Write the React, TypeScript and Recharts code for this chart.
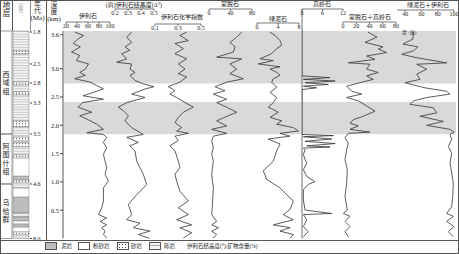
import React from "react";
import {
  LineChart,
  Line,
  XAxis,
  YAxis,
  ReferenceArea,
  ReferenceLine,
} from "recharts";

// depth (km) / value pairs, from the top down
const illite: [number, number][] = [
  [3.63, 36], [3.57, 52], [3.51, 42], [3.43, 33], [3.37, 46], [3.28, 30], [3.22, 45],
  [3.13, 39], [3.07, 61], [2.98, 55], [2.92, 45], [2.87, 55], [2.81, 36], [2.75, 64],
  [2.69, 76], [2.63, 88], [2.57, 70], [2.51, 51], [2.45, 88], [2.39, 50], [2.31, 42],
  [2.22, 67], [2.16, 45], [2.1, 58], [2.01, 76], [1.92, 88], [1.86, 58], [1.83, 88],
  [1.78, 94], [1.69, 88], [1.6, 94], [1.48, 88], [1.36, 91], [1.25, 94], [1.13, 91],
  [1.01, 97], [0.89, 88], [0.77, 88], [0.66, 88], [0.54, 85], [0.42, 79], [0.36, 94],
  [0.3, 82], [0.24, 94], [0.19, 85], [0.13, 91], [0.07, 88], [0.01, 94],
];

const crystallinity: [number, number][] = [
  [3.63, 0.328], [3.54, 0.29], [3.45, 0.328], [3.37, 0.277], [3.31, 0.315], [3.25, 0.251],
  [3.16, 0.29], [3.1, 0.213], [3.07, 0.328], [2.98, 0.315], [2.92, 0.354], [2.87, 0.315],
  [2.78, 0.354], [2.72, 0.418], [2.67, 0.5], [2.63, 0.431], [2.54, 0.328], [2.48, 0.431],
  [2.39, 0.29], [2.31, 0.226], [2.25, 0.264], [2.16, 0.303], [2.07, 0.277], [1.95, 0.328],
  [1.83, 0.418], [1.78, 0.29], [1.69, 0.379], [1.63, 0.315], [1.54, 0.354], [1.36, 0.367],
  [1.13, 0.418], [0.95, 0.444], [0.77, 0.367], [0.6, 0.303], [0.42, 0.328], [0.33, 0.29],
  [0.27, 0.392], [0.19, 0.341], [0.13, 0.469], [0.07, 0.379], [0.0, 0.469],
];

const chemIndex: [number, number][] = [
  [3.63, 0.375], [3.57, 0.317], [3.48, 0.39], [3.43, 0.274], [3.34, 0.346], [3.25, 0.274],
  [3.16, 0.375], [3.07, 0.303], [2.98, 0.361], [2.9, 0.303], [2.84, 0.375], [2.75, 0.317],
  [2.67, 0.216], [2.6, 0.274], [2.54, 0.23], [2.48, 0.288], [2.39, 0.361], [2.31, 0.433],
  [2.22, 0.346], [2.13, 0.303], [2.04, 0.274], [1.95, 0.332], [1.89, 0.288], [1.85, 0.39],
  [1.8, 0.274], [1.72, 0.303], [1.63, 0.23], [1.54, 0.274], [1.36, 0.303], [1.25, 0.317],
  [1.13, 0.274], [1.01, 0.288], [0.83, 0.317], [0.66, 0.39], [0.54, 0.303], [0.42, 0.39],
  [0.33, 0.288], [0.24, 0.419], [0.19, 0.317], [0.1, 0.419], [0.01, 0.346],
];

const smectite: [number, number][] = [
  [3.63, 60.8], [3.54, 51.5], [3.45, 39], [3.37, 48.4], [3.28, 45.3], [3.19, 14.3],
  [3.16, 60.8], [3.07, 39], [2.98, 51.5], [2.9, 39], [2.81, 63.9], [2.75, 32.9],
  [2.67, 11.2], [2.6, 29.8], [2.54, 8.1], [2.45, 32.9], [2.39, 14.3], [2.31, 32.9],
  [2.22, 51.5], [2.16, 36], [2.07, 14.3], [1.98, 32.9], [1.92, 5], [1.85, 32.9],
  [1.8, 8.1], [1.72, 5], [1.6, 8.1], [1.48, 5], [1.36, 8.1], [1.13, 5], [0.89, 8.1],
  [0.66, 6.8], [0.42, 5], [0.3, 14.3], [0.24, 5], [0.19, 17.4], [0.13, 5], [0.07, 14.3],
  [0.0, 6.8],
];

const chlorite: [number, number][] = [
  [3.63, 2.48], [3.57, 3.43], [3.48, 4.38], [3.4, 4.7], [3.34, 3.75], [3.25, 2.79],
  [3.16, 0.57], [3.13, 3.11], [3.07, 0.25], [3.02, 4.38], [2.98, 2.48], [2.92, 3.75],
  [2.87, 4.38], [2.81, 3.11], [2.75, 2.79], [2.66, 3.75], [2.57, 2.48], [2.48, 3.75],
  [2.39, 3.11], [2.31, 2.16], [2.22, 4.06], [2.13, 2.48], [2.07, 4.7], [2.01, 3.75],
  [1.95, 6.92], [1.89, 7.9], [1.85, 4.38], [1.8, 6.29], [1.75, 2.16], [1.66, 4.38],
  [1.54, 3.75], [1.36, 3.11], [1.19, 1.2], [1.04, 1.84], [0.89, 4.38], [0.77, 5.65],
  [0.66, 6.92], [0.51, 6.29], [0.42, 5.0], [0.33, 6.92], [0.24, 3.11], [0.19, 6.29],
  [0.13, 4.38], [0.07, 6.92], [0.0, 6.29],
];

const kaolinite: [number, number][] = [
  [3.666, 0], [2.86, 0], [2.83, 8.2], [2.8, 0.4], [2.77, 9.7], [2.74, 0.9], [2.71, 7.7],
  [2.68, 0.4], [2.65, 4.3], [2.62, 0], [1.83, 0], [1.81, 9.2], [1.79, 0.4], [1.75, 8.7],
  [1.71, 0.9], [1.67, 9.7], [1.63, 1.4], [1.61, 8.2], [1.59, 0.4], [1.56, 0.9], [1.48, 0.4],
  [1.39, 0.9], [1.33, 1.4], [1.21, 0.4], [1.09, 1.4], [1.0, 3.8], [0.95, 1.8], [0.86, 0.4],
  [0.68, 0.4], [0.5, 0.9], [0.44, 8.7], [0.42, 0.4], [0.33, 1.4], [0.21, 0.4], [0.12, 1.8],
  [0.03, 0.4],
];

const smectKaol: [number, number][] = [
  [3.63, 37.7], [3.54, 51.3], [3.45, 33.2], [3.37, 60.4], [3.33, 53.3], [3.27, 65.9],
  [3.21, 35.7], [3.15, 48.3], [3.09, 8], [3.065, 40.7], [2.98, 35.7], [2.92, 53.3],
  [2.86, 35.7], [2.8, 45.7], [2.74, 25.7], [2.68, 5.5], [2.59, 13.1], [2.54, 28.2],
  [2.48, 5.5], [2.42, 23.1], [2.33, 35.7], [2.24, 48.3], [2.15, 30.6], [2.09, 15.6],
  [2.03, 10.6], [1.98, 23.1], [1.92, 10.6], [1.87, 40.7], [1.85, 8], [1.77, 3], [1.68, 8],
  [1.56, 5.5], [1.39, 3], [1.21, 6.5], [0.97, 5.5], [0.74, 3], [0.5, 6.5], [0.44, 0.5],
  [0.39, 10.6], [0.3, 3], [0.21, 10.6], [0.12, 3], [0.03, 8],
];

const chlIll: [number, number][] = [
  [3.63, 50], [3.51, 49.7], [3.42, 37.4], [3.37, 55.8], [3.3, 50], [3.24, 35.8],
  [3.18, 54.2], [3.09, 91], [3.065, 54.2], [2.98, 66.5], [2.89, 54.2], [2.8, 58.3],
  [2.74, 39.8], [2.65, 64.4], [2.59, 91], [2.54, 95.1], [2.48, 66.5], [2.42, 50],
  [2.36, 46], [2.3, 74.6], [2.21, 78.8], [2.15, 58.3], [2.06, 86.9], [1.99, 66.5],
  [1.92, 95.1], [1.87, 100], [1.83, 95.1], [1.74, 97.2], [1.62, 93], [1.5, 97.2],
  [1.33, 95.1], [1.15, 97.2], [0.97, 99.2], [0.74, 98.4], [0.56, 97.2], [0.44, 91],
  [0.39, 99.2], [0.3, 91], [0.21, 100], [0.12, 93], [0.03, 99.2],
];

const depthTicks = [3.6, 3.0, 2.5, 2.0, 1.5, 1.0, 0.5];
const ageLabels = ["1.8", "2.5", "2.8", "3.3", "3.5", "4.6", "8.0"];
const ageDepths = [3.648, 3.083, 2.747, 2.394, 1.846, 0.963, 0];
const clayBands: [number, number][] = [
  [3.666, 2.74],
  [2.41, 1.84],
];

// lithology column: top depth, bottom depth, rock type
const lithoLayers: [number, number, string][] = [
  [3.666, 3.31, "cong"], [3.31, 3.26, "sand"], [3.26, 2.765, "cong"], [2.765, 2.71, "sand"],
  [2.71, 2.59, "cong"], [2.59, 2.535, "sand"], [2.535, 2.075, "cong"], [2.075, 1.97, "sand"],
  [1.97, 1.79, "cong"], [1.79, 1.72, "sand"], [1.72, 1.69, "cong"], [1.69, 1.62, "sand"],
  [1.62, 1.475, "cong"], [1.475, 1.42, "sand"], [1.42, 1.1, "silt"], [1.1, 1.03, "mud"],
  [1.03, 0.98, "sand"], [0.98, 0.89, "cong"], [0.89, 0.73, "silt"], [0.73, 0.45, "mud"],
  [0.45, 0.38, "cong"], [0.38, 0.31, "mud"], [0.31, 0.255, "silt"], [0.255, 0.2, "mud"],
  [0.2, 0.115, "silt"], [0.115, 0.06, "sand"], [0.06, 0, "cong"],
];

const strataNames = ["西域组", "阿图什组", "乌恰群"];
const strataTops = [3.666, 1.846, 0.963];
const strataBottoms = [1.846, 0.963, 0];

const FONT = '"Liberation Serif", "Noto Sans CJK SC", serif';
const TOP_DEPTH = 3.666;
const BASE_Y = 238.5;
const PX_KM = 56.6;
const INK = "#333";

const lithoFill: Record<string, string> = {
  cong: "url(#pCong)",
  sand: "url(#pSand)",
  silt: "#ffffff",
  mud: "#bdbdbd",
};

type Pt = [number, number];

function Txt({ x, y, size = 6, children, anchor = "middle", color = "#222" }: any) {
  const tx =
    anchor === "middle" ? "translateX(-50%)" : anchor === "end" ? "translateX(-100%)" : "none";
  return (
    <div
      style={{
        position: "absolute",
        left: x,
        top: y,
        fontSize: size,
        lineHeight: 1,
        whiteSpace: "nowrap",
        transform: tx,
        color,
        fontFamily: FONT,
      }}
    >
      {children}
    </div>
  );
}

const StackedLabel = (props: any) => {
  const { viewBox, value } = props;
  if (!viewBox) return null;
  const { x, y, width, height } = viewBox;
  const chars = String(value).split("");
  const lh = 8.5;
  const cx = x + width / 2;
  const start = y + height / 2 - ((chars.length - 1) * lh) / 2 + 2.5;
  return (
    <text fontSize={7} fill="#222" textAnchor="middle" fontFamily={FONT}>
      {chars.map((c, i) => (
        <tspan key={i} x={cx} y={start + i * lh}>
          {c}
        </tspan>
      ))}
    </text>
  );
};

interface TrackProps {
  data: Pt[];
  domain: [number, number];
  ticks: number[];
  x0: number;
  x1: number;
  axisY: number;
  zero?: boolean;
  fmt?: (v: number) => string;
}

function Track({ data, domain, ticks, x0, x1, axisY, zero, fmt }: TrackProps) {
  const pad = 8;
  // chart top sits 1px above the axis line, the plot starts 1px below it
  const plotTop = axisY + 1;
  const plotH = BASE_Y - plotTop;
  const rows = data.map(([d, v]) => ({ d, v }));
  return (
    <div style={{ position: "absolute", left: x0 - pad, top: axisY - 1 }}>
      <LineChart
        width={x1 - x0 + pad * 2}
        height={plotH + 2 + 2}
        data={rows}
        layout="vertical"
        margin={{ top: 1, right: pad, bottom: 2, left: pad }}
      >
        <XAxis
          type="number"
          orientation="top"
          domain={domain}
          ticks={ticks}
          interval={0}
          mirror
          height={1}
          tickSize={2}
          tickMargin={0}
          tickFormatter={fmt}
          tick={{ fontSize: 6, fill: "#222", fontFamily: FONT }}
          axisLine={{ stroke: "#444", strokeWidth: 0.7 }}
          tickLine={{ stroke: "#444", strokeWidth: 0.7 }}
          allowDataOverflow
        />
        <YAxis type="number" dataKey="d" domain={[0, plotH / PX_KM]} reversed hide allowDataOverflow />
        {zero && <ReferenceLine x={domain[0]} stroke="#999" strokeWidth={1.4} />}
        <Line
          type="linear"
          dataKey="v"
          stroke={INK}
          strokeWidth={0.8}
          dot={false}
          isAnimationActive={false}
        />
      </LineChart>
    </div>
  );
}

const f1 = (v: number) => v.toFixed(1);

const tracks = [
  { data: illite, domain: [20, 100], ticks: [20, 40, 60, 80, 100], x0: 66, x1: 110, axisY: 22, title: "伊利石", tx: 88, ty: 13 },
  { data: crystallinity, domain: [0.2, 0.5], ticks: [0.2, 0.3, 0.4, 0.5], x0: 115, x1: 154, axisY: 9, title: "(肩)伊利石结晶度(Δ°)", tx: 134, ty: 2, fmt: f1 },
  { data: chemIndex, domain: [0.1, 0.5], ticks: [0.1, 0.3, 0.5], x0: 155, x1: 201, axisY: 24, title: "伊利石化学指数", tx: 182, ty: 13.5, fmt: f1 },
  { data: smectite, domain: [0, 80], ticks: [0, 40, 80], x0: 209, x1: 252, axisY: 9, title: "蒙脱石", tx: 230, ty: 1 },
  { data: chlorite, domain: [0, 8], ticks: [0, 4, 8], x0: 257, x1: 299, axisY: 23, title: "绿泥石", tx: 278, ty: 16 },
  { data: kaolinite, domain: [0, 12], ticks: [0, 6, 12], x0: 302, x1: 343, axisY: 9, title: "高岭石", tx: 322, ty: 1, zero: true },
  { data: smectKaol, domain: [0, 80], ticks: [0, 20, 40, 60, 80], x0: 343, x1: 396, axisY: 22, title: "蒙脱石＋高岭石", tx: 370, ty: 14 },
  { data: chlIll, domain: [30, 100], ticks: [40, 60, 80, 100], x0: 397, x1: 454, axisY: 10, title: "绿泥石＋伊利石", tx: 428, ty: 2 },
];

const vline = (x: number, y0: number, y1: number, color = "#555") => (
  <div
    style={{ position: "absolute", left: x, top: y0, width: 0, height: y1 - y0, borderLeft: `1px solid ${color}` }}
  />
);

const legendBox = (x: number, bg: string) => (
  <div
    style={{
      position: "absolute",
      left: x,
      top: 242,
      width: 12,
      height: 8,
      border: "0.6px solid #555",
      background: bg,
      boxSizing: "border-box",
    }}
  />
);

const bandRows = clayBands.map(([a, b]) => ({ d: a, v: 0.5 }));
const lithoRows = lithoLayers.map(([a]) => ({ d: a, v: 15 }));

export default function App() {
  return (
    <div
      style={{
        position: "absolute",
        left: 0,
        top: 0,
        width: 459,
        height: 254,
        background: "#fff",
        fontFamily: FONT,
        overflow: "hidden",
      }}
    >
      {/* background: clay bands + depth axis */}
      <div style={{ position: "absolute", left: 0, top: 0 }}>
        <LineChart
          width={459}
          height={254}
          data={bandRows}
          layout="vertical"
          margin={{ top: 31, right: 3, bottom: 254 - BASE_Y, left: 0 }}
        >
          <XAxis type="number" dataKey="v" domain={[0, 1]} allowDataOverflow hide />
          <YAxis
            type="number"
            dataKey="d"
            domain={[0, TOP_DEPTH]}
            allowDataOverflow
            reversed
            ticks={depthTicks}
            interval={0}
            width={63}
            tickSize={3}
            tickMargin={1}
            tickFormatter={f1}
            tick={{ fontSize: 6.5, fill: "#222", fontFamily: FONT }}
            axisLine={{ stroke: "#aaa", strokeWidth: 2 }}
            tickLine={{ stroke: "#444" }}
          />
          {clayBands.map(([a, b], i) => (
            <ReferenceArea
              key={i}
              y1={a}
              y2={b}
              x1={0}
              x2={1}
              ifOverflow="visible"
              fill="#d9d9d9"
              fillOpacity={1}
              stroke="none"
            />
          ))}
          <Line dataKey="v" stroke="none" dot={false} isAnimationActive={false} />
        </LineChart>
      </div>

      {/* strata, lithology and ages */}
      <div style={{ position: "absolute", left: 0, top: 0 }}>
        <LineChart
          width={46}
          height={254}
          data={lithoRows}
          layout="vertical"
          margin={{ top: 31, right: 0, bottom: 254 - BASE_Y, left: 0 }}
        >
          <defs>
            <pattern id="pSand" width="3" height="2.5" patternUnits="userSpaceOnUse">
              <rect width="3" height="2.5" fill="#fff" />
              <circle cx="1.5" cy="1.25" r="0.55" fill="#444" />
            </pattern>
            <pattern id="pCong" width="4" height="2.6" patternUnits="userSpaceOnUse">
              <rect width="4" height="2.6" fill="#f3f3f3" />
              <line x1="0" y1="0.5" x2="4" y2="0.5" stroke="#aaa" strokeWidth="0.6" />
            </pattern>
          </defs>
          <XAxis type="number" dataKey="v" domain={[0, 30]} allowDataOverflow hide />
          <YAxis
            type="number"
            dataKey="d"
            orientation="right"
            domain={[0, TOP_DEPTH]}
            allowDataOverflow
            reversed
            ticks={ageDepths}
            interval={0}
            width={16}
            tickSize={2}
            tickMargin={1}
            tickFormatter={(v: number) => ageLabels[ageDepths.indexOf(v)] ?? ""}
            tick={{ fontSize: 6, fill: "#222", fontFamily: FONT }}
            axisLine={false}
            tickLine={{ stroke: "#444" }}
          />
          {lithoLayers.map(([a, b, t], i) => (
            <ReferenceArea
              key={"l" + i}
              y1={a}
              y2={b}
              x1={13}
              x2={29}
              ifOverflow="visible"
              fill={lithoFill[t]}
              fillOpacity={1}
              stroke="#666"
              strokeWidth={0.4}
            />
          ))}
          {strataNames.map((n, i) => (
            <ReferenceArea
              key={"s" + i}
              y1={strataTops[i]}
              y2={strataBottoms[i]}
              x1={0}
              x2={12}
              ifOverflow="visible"
              fill="none"
              stroke="#555"
              strokeWidth={0.6}
              label={{ value: n, content: StackedLabel }}
            />
          ))}
          <Line dataKey="v" stroke="none" dot={false} isAnimationActive={false} />
        </LineChart>
      </div>

      {tracks.map((t, i) => (
        <Track
          key={i}
          data={t.data as Pt[]}
          domain={t.domain as [number, number]}
          ticks={t.ticks}
          x0={t.x0}
          x1={t.x1}
          axisY={t.axisY}
          zero={t.zero}
          fmt={t.fmt}
        />
      ))}
      {tracks.map((t, i) => (
        <Txt key={"t" + i} x={t.tx} y={t.ty} size={6}>
          {t.title}
        </Txt>
      ))}
      <Txt x={402} y={30} size={5} anchor="start">蒙+高)</Txt>

      {/* left header */}
      <Txt x={6.5} y={2} size={7.5}>
        地<br />层
      </Txt>
      <Txt x={21} y={3} size={5} color="#999">
        岩<br />性
      </Txt>
      <div style={{ position: "absolute", left: 37.5, top: 1, transform: "translateX(-50%)", fontSize: 7, lineHeight: "7px", textAlign: "center", color: "#222" }}>
        年<br />代<br />(Ma)
      </div>
      <div style={{ position: "absolute", left: 54, top: 2, transform: "translateX(-50%)", fontSize: 7, lineHeight: "7px", textAlign: "center", color: "#222" }}>
        深<br />度<br />(km)
      </div>
      {vline(12, 0, 31)}
      {vline(29.5, 0, 31, "#888")}
      {vline(45.5, 0, 240)}

      {/* frame */}
      <div style={{ position: "absolute", left: 0, top: 240, width: 459, height: 0, borderTop: "1px solid #555" }} />
      <div style={{ position: "absolute", left: 0, top: 0, width: 459, height: 254, border: "1px solid #555", boxSizing: "border-box" }} />

      {/* legend */}
      {legendBox(45, "#bdbdbd")}
      <Txt x={61} y={243.5} size={5.5} anchor="start">泥岩</Txt>
      {legendBox(78, "#fff")}
      <Txt x={93} y={243.5} size={5.5} anchor="start">粉砂岩</Txt>
      {legendBox(117, "radial-gradient(circle, #444 0.6px, #fff 0.8px) 0 0 / 3px 3px")}
      <Txt x={131} y={243.5} size={5.5} anchor="start">砂岩</Txt>
      {legendBox(149, "repeating-linear-gradient(#f3f3f3 0 2px, #aaa 2px 2.6px)")}
      <Txt x={164} y={243.5} size={5.5} anchor="start">砾岩</Txt>
      <Txt x={187} y={243.5} size={5.5} anchor="start">伊利石结晶度(°);矿物含量(%)</Txt>
    </div>
  );
}
